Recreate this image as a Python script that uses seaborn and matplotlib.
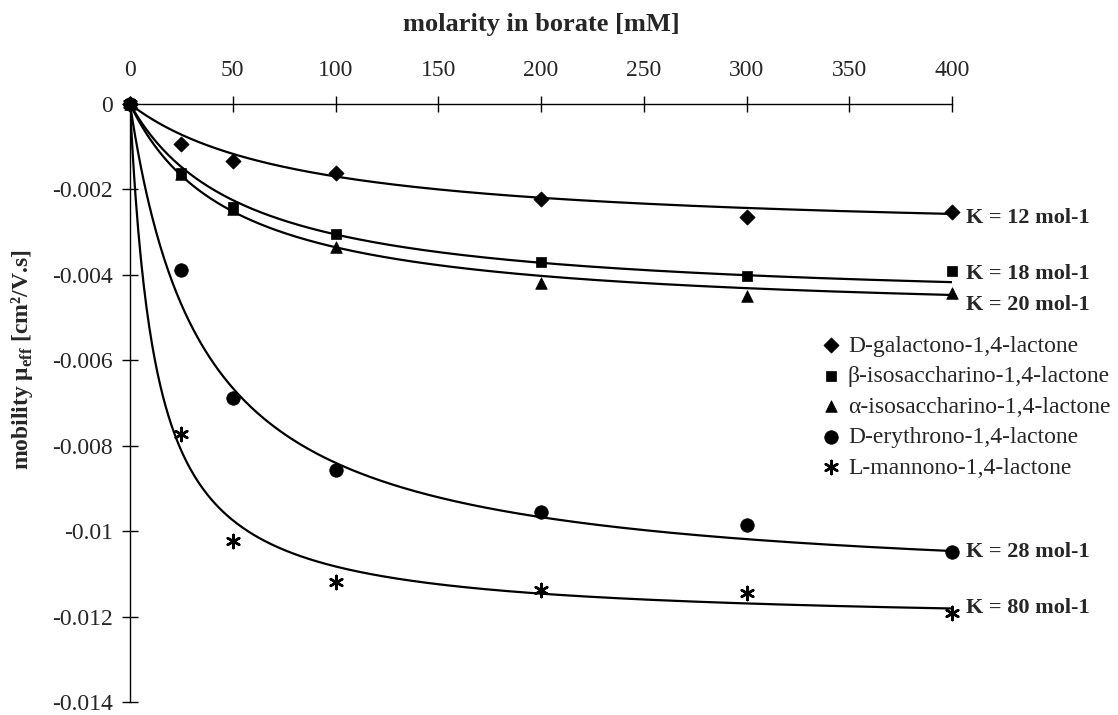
import numpy as np
import pandas as pd
import matplotlib
matplotlib.use("Agg")
import matplotlib.pyplot as plt
import seaborn as sns

# ---- data ----
conc_mM = [0, 25, 50, 100, 200, 300, 400]
series_names = ["D-galactono-1,4-lactone", "β-isosaccharino-1,4-lactone",
                "α-isosaccharino-1,4-lactone", "D-erythrono-1,4-lactone",
                "L-mannono-1,4-lactone"]
galactono = [0, -0.00093, -0.00134, -0.00162, -0.00222, -0.00264, -0.00252]
beta_iso = [0, -0.00162, -0.00241, -0.00305, -0.00371, -0.00403, -0.00390]
alpha_iso = [0, -0.00165, -0.00245, -0.00334, -0.00420, -0.00450, -0.00442]
erythrono = [0, -0.00389, -0.00688, -0.00857, -0.00956, -0.00985, -0.01049]
mannono = [0, -0.00773, -0.01024, -0.01119, -0.01138, -0.01145, -0.01192]

# fitted binding constants (M^-1) and limiting mobilities (cm2/V.s)
K_values = [12, 18, 20, 28, 80]
mu_limits = [-0.00311, -0.00475, -0.00503, -0.01140, -0.01218]
K_labels = ["K = 12 mol-1", "K = 18 mol-1", "K = 20 mol-1", "K = 28 mol-1", "K = 80 mol-1"]
K_label_y = [-0.00267, -0.00398, -0.00471, -0.01049, -0.01181]

y_ticks = [0, -0.002, -0.004, -0.006, -0.008, -0.01, -0.012, -0.014]
y_tick_labels = ["0", "-0.002", "-0.004", "-0.006", "-0.008", "-0.01", "-0.012", "-0.014"]
x_ticks = [0, 50, 100, 150, 200, 250, 300, 350, 400]

# ---- build long-form tables ----
all_vals = [galactono, beta_iso, alpha_iso, erythrono, mannono]
pts = pd.DataFrame({
    "c": conc_mM * len(series_names),
    "mu": sum(all_vals, []),
    "series": sum([[n] * len(conc_mM) for n in series_names], []),
})
grid = np.linspace(0, 400, 600)
curves = []
for name, K, m in zip(series_names, K_values, mu_limits):
    kc = K * grid / 1000.0
    curves.append(pd.DataFrame({"c": grid, "mu": m * kc / (1 + kc), "series": name}))
curves = pd.concat(curves, ignore_index=True)

# ---- style ----
sns.set_theme(style="white")
plt.rcParams["font.family"] = ["Liberation Serif", "DejaVu Serif"]
plt.rcParams["mathtext.fontset"] = "custom"
plt.rcParams["mathtext.rm"] = "Liberation Serif"
plt.rcParams["mathtext.bf"] = "Liberation Serif:bold"
plt.rcParams["axes.unicode_minus"] = False

fig = plt.figure(figsize=(11.18, 7.15), dpi=100)
ax = fig.add_axes([130 / 1118, 13 / 715, 822 / 1118, 598 / 715])

sns.lineplot(data=curves, x="c", y="mu", units="series", estimator=None,
             color="black", linewidth=1.6, ax=ax, legend=False, sort=False)

markers = {series_names[0]: "D", series_names[1]: "s", series_names[2]: "^",
           series_names[3]: "o", series_names[4]: (6, 2, 0)}
sizes = {series_names[0]: 60, series_names[1]: 60, series_names[2]: 70,
         series_names[3]: 95, series_names[4]: 90}
for name in series_names:
    sub = pts[pts["series"] == name]
    sns.scatterplot(data=sub, x="c", y="mu", marker=markers[name], s=sizes[name],
                    color="black", edgecolor="black",
                    linewidth=(1.8 if name == series_names[4] else 0.5),
                    ax=ax, label=name, zorder=5, clip_on=False)

ax.set_xlim(0, 400)
ax.set_ylim(-0.014, 0)
ax.xaxis.tick_top()
ax.xaxis.set_label_position("top")
ax.set_xticks(x_ticks)
ax.set_xticklabels([str(t) for t in x_ticks], fontsize=17)
ax.set_yticks(y_ticks)
ax.set_yticklabels(y_tick_labels, fontsize=17)
ax.tick_params(axis="both", direction="inout", length=11, width=1, color="black",
               top=True, bottom=False, left=True, right=False)
ax.tick_params(axis="x", pad=11)
ax.tick_params(axis="y", pad=7)
for s in ["right", "bottom"]:
    ax.spines[s].set_visible(False)
for s in ["top", "left"]:
    ax.spines[s].set_color("black")
    ax.spines[s].set_linewidth(1)

ax.set_xlabel("molarity in borate [mM]", fontsize=19, fontweight="bold", labelpad=21)
ax.set_ylabel("")
fig.text(22 / 1118, 1 - 360 / 715, "mobility μ$_{\\mathbf{eff}}$ [cm²/V.s]",
         rotation=90, fontsize=17, fontweight="bold", ha="center", va="center")

for lab, yv in zip(K_labels, K_label_y):
    ax.text(407, yv, lab, fontsize=16, fontweight="bold", ha="left", va="center",
            clip_on=False)

ax.legend(loc="upper left", bbox_to_anchor=(822 / 1118, 1 - 335 / 715),
          bbox_transform=fig.transFigure, frameon=False, fontsize=17,
          handlelength=0.8, handletextpad=0.3, labelspacing=0.38, borderpad=0,
          borderaxespad=0)

fig.savefig("out.png", dpi=100, facecolor="white")
